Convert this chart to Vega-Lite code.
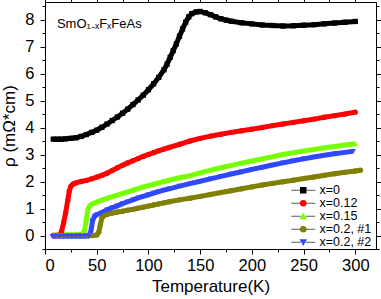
{
  "$schema": "https://vega.github.io/schema/vega-lite/v6.json",
  "width": 331,
  "height": 247,
  "autosize": {"type": "none"},
  "padding": {"left": 45, "top": 2, "right": 5, "bottom": 50},
  "config": {
    "font": "Liberation Sans",
    "view": {"stroke": "#000", "strokeWidth": 1},
    "axis": {"domainColor": "#000", "tickColor": "#000", "labelColor": "#000", "titleColor": "#000", "grid": false, "labelFont": "Liberation Sans", "titleFont": "Liberation Sans", "titleFontWeight": "normal", "labelFontSize": 16.5, "titleFontSize": 17}
  },
  "resolve": {"axis": {"x": "independent", "y": "independent"}},
  "data": {
    "values": [
      {"series": "x=0", "T": 8, "rho": 3.57}, {"series": "x=0", "T": 12, "rho": 3.57}, {"series": "x=0", "T": 16, "rho": 3.57}, {"series": "x=0", "T": 20, "rho": 3.58}, {"series": "x=0", "T": 25, "rho": 3.6}, {"series": "x=0", "T": 30, "rho": 3.62}, {"series": "x=0", "T": 35, "rho": 3.67}, {"series": "x=0", "T": 40, "rho": 3.74}, {"series": "x=0", "T": 45, "rho": 3.82}, {"series": "x=0", "T": 50, "rho": 3.9}, {"series": "x=0", "T": 55, "rho": 4.01}, {"series": "x=0", "T": 60, "rho": 4.13}, {"series": "x=0", "T": 65, "rho": 4.26}, {"series": "x=0", "T": 70, "rho": 4.39}, {"series": "x=0", "T": 75, "rho": 4.53}, {"series": "x=0", "T": 80, "rho": 4.68}, {"series": "x=0", "T": 85, "rho": 4.85}, {"series": "x=0", "T": 90, "rho": 5.02}, {"series": "x=0", "T": 95, "rho": 5.2}, {"series": "x=0", "T": 100, "rho": 5.4}, {"series": "x=0", "T": 105, "rho": 5.62}, {"series": "x=0", "T": 110, "rho": 5.86}, {"series": "x=0", "T": 115, "rho": 6.14}, {"series": "x=0", "T": 118, "rho": 6.35}, {"series": "x=0", "T": 121, "rho": 6.6}, {"series": "x=0", "T": 124, "rho": 6.85}, {"series": "x=0", "T": 127, "rho": 7.1}, {"series": "x=0", "T": 130, "rho": 7.38}, {"series": "x=0", "T": 133, "rho": 7.65}, {"series": "x=0", "T": 136, "rho": 7.9}, {"series": "x=0", "T": 139, "rho": 8.1}, {"series": "x=0", "T": 142, "rho": 8.22}, {"series": "x=0", "T": 146, "rho": 8.28}, {"series": "x=0", "T": 150, "rho": 8.3}, {"series": "x=0", "T": 155, "rho": 8.25}, {"series": "x=0", "T": 160, "rho": 8.18}, {"series": "x=0", "T": 165, "rho": 8.1}, {"series": "x=0", "T": 170, "rho": 8.03}, {"series": "x=0", "T": 175, "rho": 7.98}, {"series": "x=0", "T": 180, "rho": 7.94}, {"series": "x=0", "T": 190, "rho": 7.88}, {"series": "x=0", "T": 200, "rho": 7.84}, {"series": "x=0", "T": 210, "rho": 7.8}, {"series": "x=0", "T": 220, "rho": 7.78}, {"series": "x=0", "T": 230, "rho": 7.76}, {"series": "x=0", "T": 240, "rho": 7.77}, {"series": "x=0", "T": 250, "rho": 7.79}, {"series": "x=0", "T": 260, "rho": 7.81}, {"series": "x=0", "T": 270, "rho": 7.84}, {"series": "x=0", "T": 280, "rho": 7.87}, {"series": "x=0", "T": 290, "rho": 7.9}, {"series": "x=0", "T": 300, "rho": 7.93},

      {"series": "x=0.12", "T": 8, "rho": 0.0}, {"series": "x=0.12", "T": 11, "rho": 0.0}, {"series": "x=0.12", "T": 14, "rho": 0.02}, {"series": "x=0.12", "T": 16, "rho": 0.15}, {"series": "x=0.12", "T": 18, "rho": 0.47}, {"series": "x=0.12", "T": 20, "rho": 0.85}, {"series": "x=0.12", "T": 22, "rho": 1.3}, {"series": "x=0.12", "T": 23.5, "rho": 1.65}, {"series": "x=0.12", "T": 25, "rho": 1.82}, {"series": "x=0.12", "T": 27, "rho": 1.9}, {"series": "x=0.12", "T": 30, "rho": 1.95}, {"series": "x=0.12", "T": 35, "rho": 2.0}, {"series": "x=0.12", "T": 40, "rho": 2.04}, {"series": "x=0.12", "T": 45, "rho": 2.1}, {"series": "x=0.12", "T": 50, "rho": 2.16}, {"series": "x=0.12", "T": 55, "rho": 2.23}, {"series": "x=0.12", "T": 60, "rho": 2.31}, {"series": "x=0.12", "T": 65, "rho": 2.41}, {"series": "x=0.12", "T": 70, "rho": 2.51}, {"series": "x=0.12", "T": 75, "rho": 2.6}, {"series": "x=0.12", "T": 80, "rho": 2.69}, {"series": "x=0.12", "T": 85, "rho": 2.77}, {"series": "x=0.12", "T": 90, "rho": 2.85}, {"series": "x=0.12", "T": 95, "rho": 2.93}, {"series": "x=0.12", "T": 100, "rho": 3.0}, {"series": "x=0.12", "T": 105, "rho": 3.07}, {"series": "x=0.12", "T": 110, "rho": 3.14}, {"series": "x=0.12", "T": 115, "rho": 3.2}, {"series": "x=0.12", "T": 120, "rho": 3.26}, {"series": "x=0.12", "T": 130, "rho": 3.38}, {"series": "x=0.12", "T": 140, "rho": 3.5}, {"series": "x=0.12", "T": 150, "rho": 3.6}, {"series": "x=0.12", "T": 160, "rho": 3.68}, {"series": "x=0.12", "T": 170, "rho": 3.75}, {"series": "x=0.12", "T": 180, "rho": 3.82}, {"series": "x=0.12", "T": 190, "rho": 3.88}, {"series": "x=0.12", "T": 200, "rho": 3.94}, {"series": "x=0.12", "T": 210, "rho": 4.0}, {"series": "x=0.12", "T": 220, "rho": 4.07}, {"series": "x=0.12", "T": 230, "rho": 4.13}, {"series": "x=0.12", "T": 240, "rho": 4.19}, {"series": "x=0.12", "T": 250, "rho": 4.25}, {"series": "x=0.12", "T": 260, "rho": 4.31}, {"series": "x=0.12", "T": 270, "rho": 4.38}, {"series": "x=0.12", "T": 280, "rho": 4.44}, {"series": "x=0.12", "T": 290, "rho": 4.5}, {"series": "x=0.12", "T": 300, "rho": 4.57},

      {"series": "x=0.15", "T": 8, "rho": 0.02}, {"series": "x=0.15", "T": 12, "rho": 0.02}, {"series": "x=0.15", "T": 16, "rho": 0.02}, {"series": "x=0.15", "T": 20, "rho": 0.03}, {"series": "x=0.15", "T": 25, "rho": 0.03}, {"series": "x=0.15", "T": 30, "rho": 0.03}, {"series": "x=0.15", "T": 35, "rho": 0.05}, {"series": "x=0.15", "T": 37, "rho": 0.1}, {"series": "x=0.15", "T": 38.5, "rho": 0.25}, {"series": "x=0.15", "T": 40, "rho": 0.6}, {"series": "x=0.15", "T": 41.5, "rho": 0.98}, {"series": "x=0.15", "T": 43, "rho": 1.1}, {"series": "x=0.15", "T": 46, "rho": 1.18}, {"series": "x=0.15", "T": 50, "rho": 1.24}, {"series": "x=0.15", "T": 55, "rho": 1.31}, {"series": "x=0.15", "T": 60, "rho": 1.38}, {"series": "x=0.15", "T": 65, "rho": 1.44}, {"series": "x=0.15", "T": 70, "rho": 1.5}, {"series": "x=0.15", "T": 75, "rho": 1.56}, {"series": "x=0.15", "T": 80, "rho": 1.62}, {"series": "x=0.15", "T": 85, "rho": 1.68}, {"series": "x=0.15", "T": 90, "rho": 1.74}, {"series": "x=0.15", "T": 95, "rho": 1.8}, {"series": "x=0.15", "T": 100, "rho": 1.85}, {"series": "x=0.15", "T": 105, "rho": 1.9}, {"series": "x=0.15", "T": 110, "rho": 1.95}, {"series": "x=0.15", "T": 115, "rho": 2.0}, {"series": "x=0.15", "T": 120, "rho": 2.05}, {"series": "x=0.15", "T": 130, "rho": 2.14}, {"series": "x=0.15", "T": 140, "rho": 2.22}, {"series": "x=0.15", "T": 150, "rho": 2.32}, {"series": "x=0.15", "T": 160, "rho": 2.42}, {"series": "x=0.15", "T": 170, "rho": 2.51}, {"series": "x=0.15", "T": 180, "rho": 2.6}, {"series": "x=0.15", "T": 190, "rho": 2.68}, {"series": "x=0.15", "T": 200, "rho": 2.76}, {"series": "x=0.15", "T": 210, "rho": 2.84}, {"series": "x=0.15", "T": 220, "rho": 2.92}, {"series": "x=0.15", "T": 230, "rho": 3.0}, {"series": "x=0.15", "T": 240, "rho": 3.07}, {"series": "x=0.15", "T": 250, "rho": 3.13}, {"series": "x=0.15", "T": 260, "rho": 3.19}, {"series": "x=0.15", "T": 270, "rho": 3.25}, {"series": "x=0.15", "T": 280, "rho": 3.3}, {"series": "x=0.15", "T": 290, "rho": 3.35}, {"series": "x=0.15", "T": 300, "rho": 3.4},

      {"series": "x=0.2, #1", "T": 10, "rho": 0.0}, {"series": "x=0.2, #1", "T": 14, "rho": 0.0}, {"series": "x=0.2, #1", "T": 18, "rho": 0.0}, {"series": "x=0.2, #1", "T": 22, "rho": 0.0}, {"series": "x=0.2, #1", "T": 26, "rho": 0.0}, {"series": "x=0.2, #1", "T": 30, "rho": 0.0}, {"series": "x=0.2, #1", "T": 34, "rho": 0.0}, {"series": "x=0.2, #1", "T": 38, "rho": 0.0}, {"series": "x=0.2, #1", "T": 42, "rho": 0.0}, {"series": "x=0.2, #1", "T": 46, "rho": 0.0}, {"series": "x=0.2, #1", "T": 50, "rho": 0.02}, {"series": "x=0.2, #1", "T": 52, "rho": 0.12}, {"series": "x=0.2, #1", "T": 53.5, "rho": 0.4}, {"series": "x=0.2, #1", "T": 55, "rho": 0.65}, {"series": "x=0.2, #1", "T": 57, "rho": 0.74}, {"series": "x=0.2, #1", "T": 60, "rho": 0.78}, {"series": "x=0.2, #1", "T": 65, "rho": 0.83}, {"series": "x=0.2, #1", "T": 70, "rho": 0.87}, {"series": "x=0.2, #1", "T": 75, "rho": 0.9}, {"series": "x=0.2, #1", "T": 80, "rho": 0.94}, {"series": "x=0.2, #1", "T": 85, "rho": 0.97}, {"series": "x=0.2, #1", "T": 90, "rho": 1.01}, {"series": "x=0.2, #1", "T": 95, "rho": 1.05}, {"series": "x=0.2, #1", "T": 100, "rho": 1.09}, {"series": "x=0.2, #1", "T": 105, "rho": 1.13}, {"series": "x=0.2, #1", "T": 110, "rho": 1.17}, {"series": "x=0.2, #1", "T": 115, "rho": 1.21}, {"series": "x=0.2, #1", "T": 120, "rho": 1.25}, {"series": "x=0.2, #1", "T": 130, "rho": 1.32}, {"series": "x=0.2, #1", "T": 140, "rho": 1.38}, {"series": "x=0.2, #1", "T": 150, "rho": 1.45}, {"series": "x=0.2, #1", "T": 160, "rho": 1.52}, {"series": "x=0.2, #1", "T": 170, "rho": 1.59}, {"series": "x=0.2, #1", "T": 180, "rho": 1.66}, {"series": "x=0.2, #1", "T": 190, "rho": 1.73}, {"series": "x=0.2, #1", "T": 200, "rho": 1.8}, {"series": "x=0.2, #1", "T": 210, "rho": 1.87}, {"series": "x=0.2, #1", "T": 220, "rho": 1.93}, {"series": "x=0.2, #1", "T": 230, "rho": 1.99}, {"series": "x=0.2, #1", "T": 240, "rho": 2.05}, {"series": "x=0.2, #1", "T": 250, "rho": 2.11}, {"series": "x=0.2, #1", "T": 260, "rho": 2.17}, {"series": "x=0.2, #1", "T": 270, "rho": 2.23}, {"series": "x=0.2, #1", "T": 280, "rho": 2.29}, {"series": "x=0.2, #1", "T": 290, "rho": 2.34}, {"series": "x=0.2, #1", "T": 300, "rho": 2.39}, {"series": "x=0.2, #1", "T": 305, "rho": 2.42},

      {"series": "x=0.2, #2", "T": 7, "rho": -0.03}, {"series": "x=0.2, #2", "T": 10, "rho": -0.03}, {"series": "x=0.2, #2", "T": 14, "rho": -0.03}, {"series": "x=0.2, #2", "T": 18, "rho": -0.03}, {"series": "x=0.2, #2", "T": 22, "rho": -0.03}, {"series": "x=0.2, #2", "T": 26, "rho": -0.03}, {"series": "x=0.2, #2", "T": 30, "rho": -0.03}, {"series": "x=0.2, #2", "T": 34, "rho": -0.03}, {"series": "x=0.2, #2", "T": 38, "rho": -0.03}, {"series": "x=0.2, #2", "T": 42, "rho": -0.02}, {"series": "x=0.2, #2", "T": 44.5, "rho": 0.18}, {"series": "x=0.2, #2", "T": 46, "rho": 0.55}, {"series": "x=0.2, #2", "T": 48, "rho": 0.72}, {"series": "x=0.2, #2", "T": 50, "rho": 0.77}, {"series": "x=0.2, #2", "T": 55, "rho": 0.85}, {"series": "x=0.2, #2", "T": 60, "rho": 0.95}, {"series": "x=0.2, #2", "T": 65, "rho": 1.03}, {"series": "x=0.2, #2", "T": 70, "rho": 1.1}, {"series": "x=0.2, #2", "T": 75, "rho": 1.18}, {"series": "x=0.2, #2", "T": 80, "rho": 1.25}, {"series": "x=0.2, #2", "T": 85, "rho": 1.32}, {"series": "x=0.2, #2", "T": 90, "rho": 1.39}, {"series": "x=0.2, #2", "T": 95, "rho": 1.45}, {"series": "x=0.2, #2", "T": 100, "rho": 1.51}, {"series": "x=0.2, #2", "T": 105, "rho": 1.57}, {"series": "x=0.2, #2", "T": 110, "rho": 1.63}, {"series": "x=0.2, #2", "T": 115, "rho": 1.68}, {"series": "x=0.2, #2", "T": 120, "rho": 1.73}, {"series": "x=0.2, #2", "T": 130, "rho": 1.83}, {"series": "x=0.2, #2", "T": 140, "rho": 1.92}, {"series": "x=0.2, #2", "T": 150, "rho": 2.01}, {"series": "x=0.2, #2", "T": 160, "rho": 2.1}, {"series": "x=0.2, #2", "T": 170, "rho": 2.19}, {"series": "x=0.2, #2", "T": 180, "rho": 2.28}, {"series": "x=0.2, #2", "T": 190, "rho": 2.36}, {"series": "x=0.2, #2", "T": 200, "rho": 2.45}, {"series": "x=0.2, #2", "T": 210, "rho": 2.53}, {"series": "x=0.2, #2", "T": 220, "rho": 2.61}, {"series": "x=0.2, #2", "T": 230, "rho": 2.69}, {"series": "x=0.2, #2", "T": 240, "rho": 2.77}, {"series": "x=0.2, #2", "T": 250, "rho": 2.84}, {"series": "x=0.2, #2", "T": 260, "rho": 2.91}, {"series": "x=0.2, #2", "T": 270, "rho": 2.97}, {"series": "x=0.2, #2", "T": 280, "rho": 3.03}, {"series": "x=0.2, #2", "T": 290, "rho": 3.08}, {"series": "x=0.2, #2", "T": 298, "rho": 3.12}
    ]
  },
  "layer": [
    {
      "mark": {"type": "line", "strokeWidth": 5, "interpolate": "linear"},
      "encoding": {
        "x": {"field": "T", "type": "quantitative", "scale": {"domain": [0, 320], "nice": false, "zero": false},
          "axis": {"orient": "bottom", "values": [0, 50, 100, 150, 200, 250, 300], "tickSize": 5, "labelPadding": 3, "title": "Temperature(K)", "titlePadding": 5, "domain": false}},
        "y": {"field": "rho", "type": "quantitative", "scale": {"domain": [-0.5, 8.65], "nice": false, "zero": false},
          "axis": {"orient": "left", "values": [0, 1, 2, 3, 4, 5, 6, 7, 8], "tickSize": 5, "labelPadding": 6, "title": "ρ (mΩ*cm)", "titlePadding": 6, "domain": false}},
        "color": {"field": "series", "type": "nominal",
          "scale": {"domain": ["x=0", "x=0.12", "x=0.15", "x=0.2, #1", "x=0.2, #2"], "range": ["#000000", "#ff0000", "#77ff00", "#808000", "#2f49ff"]},
          "legend": {"title": null, "orient": "none", "legendX": 252, "legendY": 182, "padding": 0, "symbolSize": 25, "labelFontSize": 12.5, "labelFont": "Liberation Sans", "labelColor": "#000", "labelOffset": 10, "rowPadding": -1}}
      }
    },
    {
      "mark": {"type": "point", "filled": true, "size": 28, "opacity": 1},
      "encoding": {
        "x": {"field": "T", "type": "quantitative", "scale": {"domain": [0, 320], "nice": false, "zero": false},
          "axis": {"orient": "bottom", "values": [25, 75, 125, 175, 225, 275], "tickSize": 3, "labels": false, "title": null, "domain": false}},
        "y": {"field": "rho", "type": "quantitative", "scale": {"domain": [-0.5, 8.65], "nice": false, "zero": false},
          "axis": {"orient": "left", "values": [-0.5, 0.5, 1.5, 2.5, 3.5, 4.5, 5.5, 6.5, 7.5, 8.5], "tickSize": 3, "labels": false, "title": null, "domain": false}},
        "color": {"field": "series", "type": "nominal",
          "scale": {"domain": ["x=0", "x=0.12", "x=0.15", "x=0.2, #1", "x=0.2, #2"], "range": ["#000000", "#ff0000", "#77ff00", "#808000", "#2f49ff"]},
          "legend": {"title": null, "orient": "none", "legendX": 252, "legendY": 182, "padding": 0, "symbolSize": 25, "labelFontSize": 12.5, "labelFont": "Liberation Sans", "labelColor": "#000", "labelOffset": 10, "rowPadding": -1}},
        "shape": {"field": "series", "type": "nominal",
          "scale": {"domain": ["x=0", "x=0.12", "x=0.15", "x=0.2, #1", "x=0.2, #2"], "range": ["square", "circle", "triangle-up", "circle", "triangle-down"]}}
      }
    },
    {
      "mark": {"type": "point", "opacity": 0},
      "encoding": {
        "x": {"field": "T", "type": "quantitative", "scale": {"domain": [0, 320], "nice": false, "zero": false},
          "axis": {"orient": "top", "values": [0, 50, 100, 150, 200, 250, 300], "tickSize": 5, "labels": false, "title": null, "domain": false}},
        "y": {"field": "rho", "type": "quantitative", "scale": {"domain": [-0.5, 8.65], "nice": false, "zero": false},
          "axis": {"orient": "right", "values": [0, 1, 2, 3, 4, 5, 6, 7, 8], "tickSize": 5, "labels": false, "title": null, "domain": false}}
      }
    },
    {
      "mark": {"type": "point", "opacity": 0},
      "encoding": {
        "x": {"field": "T", "type": "quantitative", "scale": {"domain": [0, 320], "nice": false, "zero": false},
          "axis": {"orient": "top", "values": [25, 75, 125, 175, 225, 275], "tickSize": 3, "labels": false, "title": null, "domain": false}},
        "y": {"field": "rho", "type": "quantitative", "scale": {"domain": [-0.5, 8.65], "nice": false, "zero": false},
          "axis": {"orient": "right", "values": [-0.5, 0.5, 1.5, 2.5, 3.5, 4.5, 5.5, 6.5, 7.5, 8.5], "tickSize": 3, "labels": false, "title": null, "domain": false}}
      }
    },
    {
      "transform": [{"filter": "datum.T > 1000"}],
      "mark": {"type": "point", "filled": false, "color": "#333333", "strokeWidth": 0.8},
      "encoding": {
        "x": {"field": "T", "type": "quantitative", "scale": {"domain": [0, 320], "nice": false, "zero": false}, "axis": null},
        "y": {"field": "rho", "type": "quantitative", "scale": {"domain": [-0.5, 8.65], "nice": false, "zero": false}, "axis": null},
        "opacity": {"field": "series", "type": "ordinal",
          "scale": {"domain": ["x=0.2, #2", "x=0.2, #1", "x=0.15", "x=0.12", "x=0"], "range": [1, 1, 1, 1, 1]},
          "legend": {"title": null, "orient": "none", "legendX": 252, "legendY": 182, "padding": 0, "symbolType": "M-4.8,0H-1M1,0H4.8", "symbolSize": 25, "symbolStrokeWidth": 0.8, "symbolStrokeColor": "#333333", "symbolFillColor": "transparent", "labelFontSize": 12.5, "labelFont": "Liberation Sans", "labelColor": "transparent", "labelExpr": "' '", "labelOffset": 10, "rowPadding": -1}}
      }
    },
    {
      "data": {"values": [{"label": "SmO₁₋ₓFₓFeAs", "T": 11.5, "rho": 7.68}]},
      "mark": {"type": "text", "align": "left", "baseline": "alphabetic", "fontSize": 13, "font": "Liberation Sans", "color": "#000"},
      "encoding": {
        "x": {"field": "T", "type": "quantitative", "scale": {"domain": [0, 320], "nice": false, "zero": false}, "axis": null},
        "y": {"field": "rho", "type": "quantitative", "scale": {"domain": [-0.5, 8.65], "nice": false, "zero": false}, "axis": null},
        "text": {"field": "label"}
      }
    }
  ]
}
